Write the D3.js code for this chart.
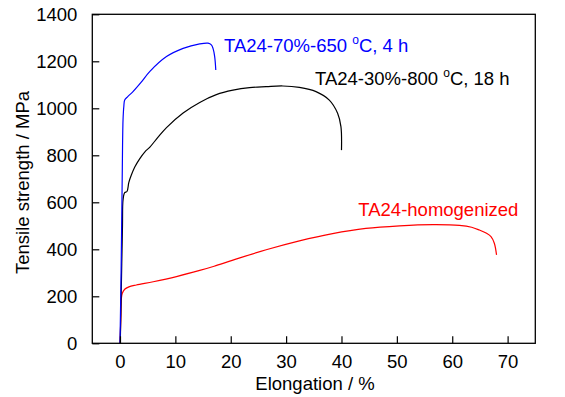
<!DOCTYPE html>
<html>
<head>
<meta charset="utf-8">
<script src="https://cdn.jsdelivr.net/npm/d3@7"></script>
<style>
  body { margin: 0; background: #fff; }
  svg text { font-family: Arial, "Liberation Sans", sans-serif; }
</style>
</head>
<body>
<div class="chart"></div>
<script>
// Tick values
const xTicks = [0, 10, 20, 30, 40, 50, 60, 70];
const yTicks = [0, 200, 400, 600, 800, 1000, 1200, 1400];

// Series: [elongation %, tensile strength MPa]
const homogenized = [
  [0, 0], [0.15, 100], [0.25, 190], [0.4, 212], [0.85, 230], [1.6, 240],
  [2.95, 248], [6, 262], [10.2, 284], [14.4, 310], [17, 328], [20.4, 354],
  [26.4, 398], [32.4, 436], [38.4, 467], [44.4, 489], [50.5, 500],
  [56.5, 505], [61.3, 502], [63.5, 494], [64.9, 482], [66.2, 468],
  [67, 454], [67.6, 426], [68, 376]
];
const ta30 = [
  [0.05, 0], [0.25, 250], [0.45, 500], [0.55, 610], [0.85, 641], [1.26, 646],
  [1.6, 685], [2.05, 716], [2.67, 750], [3.55, 785], [4.5, 815], [5.4, 835],
  [6.8, 875], [8.4, 918], [11.4, 980], [14.4, 1025], [17.4, 1058], [20.4, 1077],
  [23.4, 1088], [26.4, 1092], [29.4, 1095], [32.4, 1089], [35.4, 1071],
  [37.8, 1035], [39.3, 979], [39.9, 922], [40, 822]
];
const ta70 = [
  [0, 0], [0.2, 300], [0.4, 700], [0.55, 950], [0.7, 1010], [0.85, 1035],
  [1.4, 1050], [2.35, 1071], [3.8, 1110], [5.36, 1156], [8.4, 1220],
  [11.4, 1255], [14.4, 1274], [15.9, 1277], [16.5, 1270], [16.8, 1255],
  [17.1, 1220], [17.3, 1163]
];

const width = 565;
const height = 397;
const margin = { left: 92.3, right: 29.7, top: 14.3, bottom: 53.7 };
const fontSize = '18.5px';

const svg = d3.select('.chart')
  .append('svg')
  .attr('width', width)
  .attr('height', height);

const x = d3.scaleLinear()
  .domain([-5, 75])
  .range([margin.left, width - margin.right]);

const y = d3.scaleLinear()
  .domain([0, 1400])
  .range([height - margin.bottom, margin.top]);

// Curves, red first so blue sits on top
const line = d3.line()
  .x(d => x(d[0]))
  .y(d => y(d[1]))
  .curve(d3.curveCatmullRom.alpha(0.5));

const series = [
  { data: homogenized, color: '#ff0000' },
  { data: ta30, color: '#000000' },
  { data: ta70, color: '#0000ff' }
];

series.forEach(s => {
  svg.append('path')
    .datum(s.data)
    .attr('fill', 'none')
    .attr('stroke', s.color)
    .attr('stroke-width', 1.2)
    .attr('d', line);
});

// Axes with inward ticks
const xAxis = svg.append('g')
  .attr('transform', `translate(0, ${y(0)})`)
  .call(d3.axisBottom(x).tickValues(xTicks).tickSizeInner(-7).tickSizeOuter(0).tickPadding(12));

const yAxis = svg.append('g')
  .attr('transform', `translate(${x(-5)}, 0)`)
  .call(d3.axisLeft(y).tickValues(yTicks).tickFormat(d3.format('d'))
    .tickSizeInner(-7).tickSizeOuter(0).tickPadding(15));

[xAxis, yAxis].forEach(a => {
  a.select('.domain').remove();
  a.selectAll('line').attr('stroke', '#000').attr('stroke-width', 1.2);
  a.selectAll('text')
    .attr('fill', '#000')
    .style('font-size', fontSize)
    .style('font-family', 'Arial, "Liberation Sans", sans-serif');
});

// Frame
svg.append('rect')
  .attr('x', x(-5))
  .attr('y', y(1400))
  .attr('width', x(75) - x(-5))
  .attr('height', y(0) - y(1400))
  .attr('fill', 'none')
  .attr('stroke', '#000')
  .attr('stroke-width', 1.3);

// Axis titles
svg.append('text')
  .attr('x', 315)
  .attr('y', 390)
  .attr('text-anchor', 'middle')
  .style('font-size', fontSize)
  .text('Elongation / %');

svg.append('text')
  .attr('transform', 'translate(29, 182.5) rotate(-90)')
  .attr('text-anchor', 'middle')
  .style('font-size', fontSize)
  .text('Tensile strength / MPa');

// Curve labels
function label(px, py, color, pre, post) {
  const t = svg.append('text')
    .attr('x', px)
    .attr('y', py)
    .attr('fill', color)
    .style('font-size', fontSize);
  t.append('tspan').text(pre);
  if (post !== undefined) {
    t.append('tspan').attr('dy', -8).style('font-size', '12px').text('o');
    t.append('tspan').attr('dy', 8).text(post);
  }
}

label(224, 51.7, '#0000ff', 'TA24-70%-650 ', 'C, 4 h');
label(315, 85, '#000000', 'TA24-30%-800 ', 'C, 18 h');
label(358.3, 215.7, '#ff0000', 'TA24-homogenized');
</script>
</body>
</html>
